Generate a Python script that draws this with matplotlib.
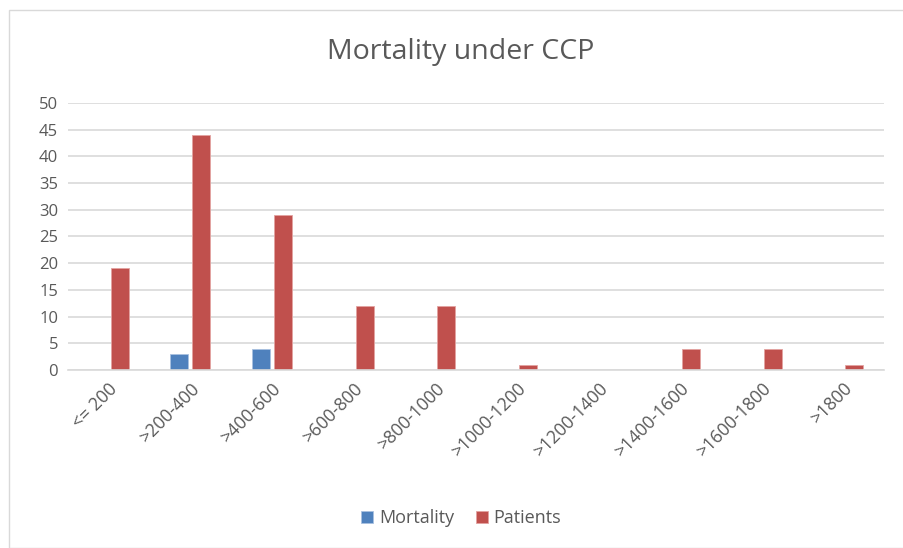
import matplotlib
matplotlib.use('Agg')
import matplotlib.pyplot as plt
import numpy as np

categories = ['<= 200', '>200-400', '>400-600', '>600-800', '>800-1000',
              '>1000-1200', '>1200-1400', '>1400-1600', '>1600-1800', '>1800']
mortality = [0, 3, 4, 0, 0, 0, 0, 0, 0, 0]
patients = [19, 44, 29, 12, 12, 1, 0, 4, 4, 1]

plt.rcParams['font.family'] = ['Open Sans', 'DejaVu Sans']
txt = '#595959'

fig = plt.figure(figsize=(9.04, 5.48), dpi=100)
ax = fig.add_axes([0.075, 0.325, 0.903, 0.487])

x = np.arange(len(categories))
w = 0.22
ax.bar(x - 0.135, mortality, w, color='#4F81BD', edgecolor='#a9c1e0', linewidth=0.6, label='Mortality')
ax.bar(x + 0.135, patients, w, color='#C0504D', edgecolor='#e3a3a1', linewidth=0.6, label='Patients')

ax.set_xlim(-0.5, len(categories) - 0.5)
ax.set_ylim(0, 50)
ax.set_yticks(range(0, 51, 5))
ax.yaxis.grid(True, color='#d9d9d9', linewidth=1.2)
ax.set_axisbelow(True)
for s in ['top', 'right', 'left']:
    ax.spines[s].set_visible(False)
ax.spines['bottom'].set_color('#d9d9d9')
ax.spines['bottom'].set_linewidth(1.2)
ax.tick_params(axis='y', length=0, colors=txt, labelsize=12, pad=7)
ax.set_xticks(x)
ax.set_xticklabels(categories, rotation=45, ha='right', rotation_mode='anchor')
ax.tick_params(axis='x', length=0, colors=txt, labelsize=12.8, pad=7)

fig.suptitle('Mortality under CCP', x=0.51, y=0.93, fontsize=20.5, color=txt)
fig.legend(loc='lower center', bbox_to_anchor=(0.51, 0.008), ncol=2, frameon=False,
           fontsize=13, labelcolor=txt, handlelength=0.7, handleheight=0.7,
           handletextpad=0.3, columnspacing=1.2)

fig.patches.append(plt.Rectangle((0.01, 0.0), 0.99, 0.982, transform=fig.transFigure,
                                 fill=False, edgecolor='#d9d9d9', linewidth=1))

fig.savefig('out.png', dpi=100)
